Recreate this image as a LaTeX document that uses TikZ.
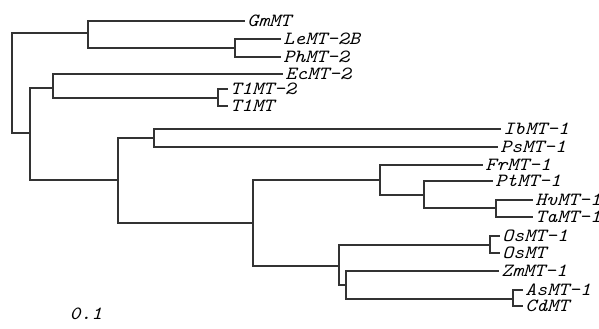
\documentclass[tikz,border=0pt]{standalone}
\usepackage{fontspec}
\setmonofont{Latin Modern Mono}[FakeStretch=1.12]
\usepackage{tikz}
\begin{document}
\begin{tikzpicture}[
x=0.5pt, y=-0.5pt,
br/.style={draw=black!80, line width=1pt},
leaf/.style={anchor=west, inner xsep=1pt, inner ysep=0pt, font=\fontsize{9.3}{10}\selectfont\ttfamily\itshape},
scalelabel/.style={font=\fontsize{9.3}{10}\selectfont\ttfamily\itshape}
]
\useasboundingbox (0,0) rectangle (599,328);
\node[leaf] (gm) at (245,21) {GmMT};
\node[leaf] (le) at (281,39) {LeMT-2B};
\node[leaf] (ph) at (281,57) {PhMT-2};
\node[leaf] (ec) at (283,74) {EcMT-2};
\node[leaf] (tla) at (228,89) {T1MT-2};
\node[leaf] (tlb) at (228,106) {T1MT};
\node[leaf] (ib) at (501,129) {IbMT-1};
\node[leaf] (ps) at (498,147) {PsMT-1};
\node[leaf] (fr) at (483,165) {FrMT-1};
\node[leaf] (pt) at (493,181) {PtMT-1};
\node[leaf] (hv) at (533,200) {HvMT-1};
\node[leaf] (ta) at (533,217) {TaMT-1};
\node[leaf] (osa) at (500,236) {OsMT-1};
\node[leaf] (osb) at (500,253) {OsMT};
\node[leaf] (zm) at (499,271) {ZmMT-1};
\node[leaf] (as) at (523,290) {AsMT-1};
\node[leaf] (cd) at (523,306) {CdMT};
\node[scalelabel] (scl) at (86,314) {0.1};

\coordinate (r) at (12,83);
\coordinate (n1) at (88,33);
\coordinate (n2) at (235,48);
\coordinate (n3) at (30,133);
\coordinate (n4) at (53,88);
\coordinate (n5) at (218,98);
\coordinate (n6) at (118,180);
\coordinate (n7) at (154,138);
\coordinate (n8) at (253,223);
\coordinate (n9) at (380,180);
\coordinate (n10) at (424,195);
\coordinate (n11) at (496,208);
\coordinate (n12) at (339,266);
\coordinate (n13) at (490,245);
\coordinate (n14) at (346,285);
\coordinate (n15) at (513,299);

\draw[br] (r) |- (n1);
\draw[br] (r) |- (n3);
\draw[br] (n1) |- (gm.west);
\draw[br] (n1) |- (n2);
\draw[br] (n2) |- (le.west);
\draw[br] (n2) |- (ph.west);
\draw[br] (n3) |- (n4);
\draw[br] (n3) |- (n6);
\draw[br] (n4) |- (ec.west);
\draw[br] (n4) |- (n5);
\draw[br] (n5) |- (tla.west);
\draw[br] (n5) |- (tlb.west);
\draw[br] (n6) |- (n7);
\draw[br] (n6) |- (n8);
\draw[br] (n7) |- (ib.west);
\draw[br] (n7) |- (ps.west);
\draw[br] (n8) |- (n9);
\draw[br] (n8) |- (n12);
\draw[br] (n9) |- (fr.west);
\draw[br] (n9) |- (n10);
\draw[br] (n10) |- (pt.west);
\draw[br] (n10) |- (n11);
\draw[br] (n11) |- (hv.west);
\draw[br] (n11) |- (ta.west);
\draw[br] (n12) |- (n13);
\draw[br] (n12) |- (n14);
\draw[br] (n13) |- (osa.west);
\draw[br] (n13) |- (osb.west);
\draw[br] (n14) |- (zm.west);
\draw[br] (n14) |- (n15);
\draw[br] (n15) |- (as.west);
\draw[br] (n15) |- (cd.west);
\end{tikzpicture}
\end{document}
